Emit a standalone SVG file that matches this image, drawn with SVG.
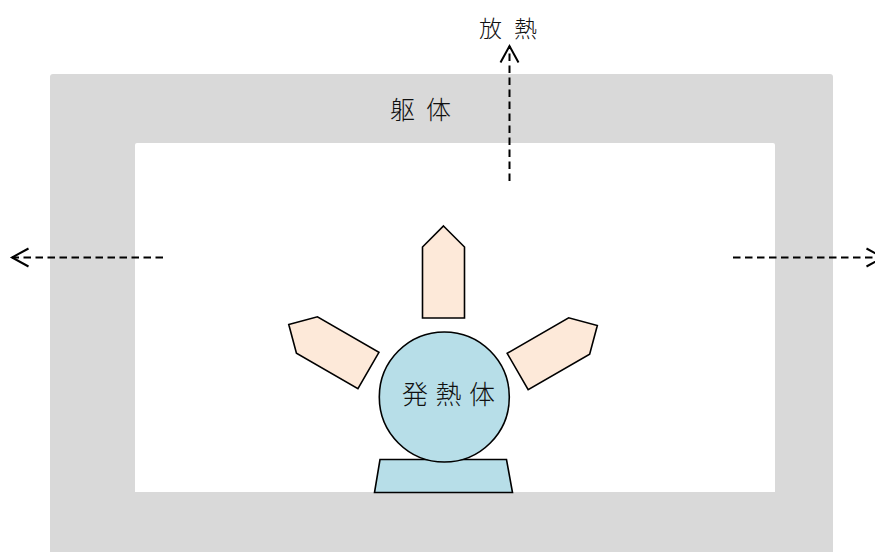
<svg xmlns="http://www.w3.org/2000/svg" width="875" height="552" viewBox="0 0 875 552">
  <style>
    .lbl { font-family: "Noto Sans CJK JP", "Noto Sans CJK SC", sans-serif; font-weight: 300; fill: #111; }
    .fin { fill: #FDE9D9; stroke: #000; stroke-width: 1.6; stroke-linejoin: miter; }
    .blue { fill: #B7DEE8; stroke: #000; stroke-width: 1.6; }
    .flow { fill: none; stroke: #000; stroke-width: 2; stroke-dasharray: 7.5 4.5; }
  </style>
  <defs>
    <marker id="chev" markerUnits="userSpaceOnUse" markerWidth="24" markerHeight="24" viewBox="-20 -12 24 24" refX="0" refY="0" orient="auto">
      <path d="M-16.5,-9 L0,0 L-16.5,9" fill="none" stroke="#000" stroke-width="2"/>
    </marker>
    <polygon id="finShape" points="0,-46 21,-25 21,46 -21,46 -21,-25"/>
  </defs>

  <g id="body">
    <path d="M50,77 Q50,74 53,74 L830,74 Q833,74 833,77 L833,552 L50,552 Z M135,145 L135,492 L775,492 L775,145 Q775,143 773,143 L137,143 Q135,143 135,145 Z" fill="#D9D9D9" fill-rule="evenodd"/>
    <text class="lbl" x="390" y="119" font-size="25" letter-spacing="11">躯体</text>
  </g>

  <g id="fin-top">
    <use href="#finShape" class="fin" transform="translate(443.5,272)"/>
  </g>
  <g id="fin-left">
    <use href="#finShape" class="fin" transform="translate(328.6,347.5) rotate(-60)"/>
  </g>
  <g id="fin-right">
    <use href="#finShape" class="fin" transform="translate(557.5,348.5) rotate(60)"/>
  </g>

  <g id="base">
    <polygon class="blue" points="380,459.5 506.5,459.5 512.5,492.5 374.5,492.5"/>
  </g>

  <g id="heater">
    <circle class="blue" cx="444.3" cy="397" r="65"/>
    <text class="lbl" x="402" y="404" font-size="26" letter-spacing="7.5">発熱体</text>
  </g>

  <g id="connectors">
    <line class="flow" x1="509.5" y1="181" x2="509.5" y2="46" marker-end="url(#chev)"/>
    <line class="flow" x1="163" y1="257.5" x2="12" y2="257.5" marker-end="url(#chev)"/>
    <line class="flow" x1="733" y1="257.5" x2="883" y2="257.5" marker-end="url(#chev)"/>
  </g>

  <g id="label-heat">
    <text class="lbl" x="479" y="37" font-size="23" letter-spacing="12">放熱</text>
  </g>
</svg>
